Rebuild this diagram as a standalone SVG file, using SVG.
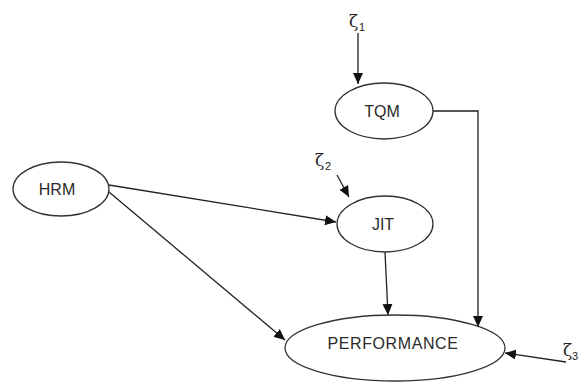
<svg xmlns="http://www.w3.org/2000/svg" width="578" height="382" viewBox="0 0 578 382">
<style>
.n{fill:#fff;stroke:#333;stroke-width:1.3}
.t{font-family:"Liberation Sans",Arial,sans-serif;font-size:16px;fill:#2a2a2a;text-anchor:middle}
.z{font-family:"DejaVu Serif","Liberation Serif",serif;font-size:17px;fill:#222}
.s{font-family:"Liberation Sans",Arial,sans-serif;font-size:11px;fill:#222}
.c{fill:none;stroke:#222;stroke-width:1.3;marker-end:url(#a)}
</style>
<defs>
<marker id="a" markerWidth="12" markerHeight="10" refX="11" refY="5" orient="auto" markerUnits="userSpaceOnUse">
<path d="M0,0 L11,5 L0,10 Z" fill="#111"/>
</marker>
</defs>
<rect width="578" height="382" fill="#fff"/>
<g id="connectors">
<path class="c" d="M358,33 L358,84"/>
<path class="c" d="M109,185 L336,222"/>
<path class="c" d="M337,175 L349,197"/>
<path class="c" d="M385,252 L388,315"/>
<path class="c" d="M433,111 L478,111 L478,327"/>
<path class="c" d="M109,192 L285,340"/>
<path class="c" d="M566,362 L505,353"/>
</g>
<g id="zeta1"><text class="z" x="349" y="27">ζ</text><text class="s" x="359" y="31">1</text></g>
<g id="zeta2"><text class="z" x="315" y="166">ζ</text><text class="s" x="325" y="170">2</text></g>
<g id="zeta3"><text class="z" x="563" y="356">ζ</text><text class="s" x="572" y="360">3</text></g>
<g id="TQM"><ellipse class="n" cx="384" cy="111" rx="49" ry="28"/><text class="t" x="382" y="117">TQM</text></g>
<g id="HRM"><ellipse class="n" cx="61" cy="189" rx="48" ry="27"/><text class="t" x="57" y="195">HRM</text></g>
<g id="JIT"><ellipse class="n" cx="385" cy="224" rx="48" ry="28"/><text class="t" x="383" y="230">JIT</text></g>
<g id="PERFORMANCE"><ellipse class="n" cx="395" cy="348" rx="110" ry="33"/><text class="t" x="393" y="349" style="letter-spacing:0.6px">PERFORMANCE</text></g>
</svg>
